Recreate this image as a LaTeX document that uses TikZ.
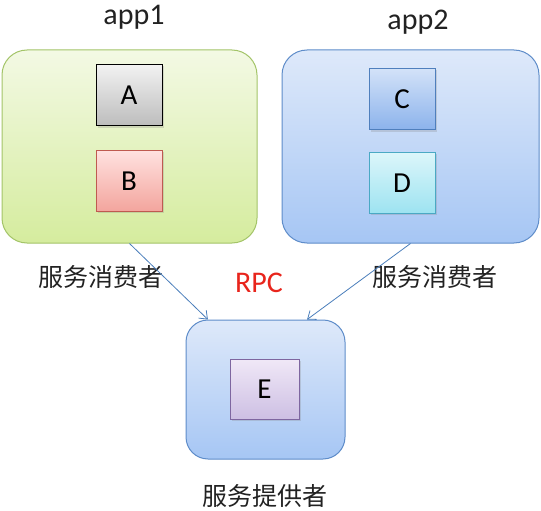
\documentclass[tikz,border=0pt]{standalone}
\usepackage{fontspec}
\setmainfont{Carlito}
\newfontfamily\cjk{Noto Sans CJK SC}
\usepackage{tikz}
\usetikzlibrary{arrows.meta, positioning, shadows, calc}
\definecolor{appGreenTop}{HTML}{F3F9E4}
\definecolor{appGreenBot}{HTML}{D5EC9E}
\definecolor{appGreenLine}{HTML}{A3C468}
\definecolor{appBlueTop}{HTML}{DEE9FA}
\definecolor{appBlueBot}{HTML}{A6C6F4}
\definecolor{appBlueLine}{HTML}{5E8CC9}
\definecolor{compGrayTop}{HTML}{F2F2F2}
\definecolor{compGrayBot}{HTML}{BDBDBD}
\definecolor{compRedTop}{HTML}{FFE2E0}
\definecolor{compRedBot}{HTML}{F3A59D}
\definecolor{compRedLine}{HTML}{BF5A50}
\definecolor{compBlueTop}{HTML}{D3E2F8}
\definecolor{compBlueBot}{HTML}{8CB3EC}
\definecolor{compBlueLine}{HTML}{4F7FBD}
\definecolor{compCyanTop}{HTML}{DCF6FA}
\definecolor{compCyanBot}{HTML}{9DE3F1}
\definecolor{compCyanLine}{HTML}{4AA9C4}
\definecolor{compPurpleTop}{HTML}{F0E8F7}
\definecolor{compPurpleBot}{HTML}{CDBFE3}
\definecolor{compPurpleLine}{HTML}{7E66A0}
\definecolor{linkBlue}{HTML}{4A7EBB}
\definecolor{textDark}{HTML}{222222}
\definecolor{rpcRed}{HTML}{E8251C}

\begin{document}
\begin{tikzpicture}[
  x=1pt, y=-1pt,
  app/.style={draw, rounded corners=25pt, minimum width=255pt, minimum height=193pt, line width=1pt},
  comp/.style={draw, minimum width=66pt, minimum height=61pt, line width=0.8pt,
    font=\fontsize{29}{33}\selectfont, text=black,
    drop shadow={opacity=0.25, shadow xshift=1.5pt, shadow yshift=-2pt}},
  lbl/.style={font=\fontsize{30}{34}\selectfont, text=textDark},
  cjklbl/.style={font=\cjk\fontsize{25}{29}\selectfont, text=textDark},
  link/.style={-{Straight Barb[length=7pt, width=11pt]}, draw=linkBlue, line width=0.8pt},
]
  \useasboundingbox (0,0) rectangle (541,511);

  % applications
  \node[app, draw=appGreenLine, top color=appGreenTop, bottom color=appGreenBot] (app1) at (129.5,146.5) {};
  \node[app, draw=appBlueLine, top color=appBlueTop, bottom color=appBlueBot, minimum width=257pt] (app2) at (410.5,146.5) {};
  \node[app, draw=appBlueLine, top color=appBlueTop, bottom color=appBlueBot,
    minimum width=159pt, minimum height=139pt, rounded corners=22pt] (prov) at (265.5,389.5) {};

  % components
  \node[comp, draw=black, top color=compGrayTop, bottom color=compGrayBot] (compA) at (129,95) {A};
  \node[comp, draw=compRedLine, top color=compRedTop, bottom color=compRedBot, below=24pt of compA] (compB) {B};
  \node[comp, draw=compBlueLine, top color=compBlueTop, bottom color=compBlueBot] (compC) at (402,99) {C};
  \node[comp, draw=compCyanLine, top color=compCyanTop, bottom color=compCyanBot, below=22pt of compC] (compD) {D};
  \node[comp, draw=compPurpleLine, top color=compPurpleTop, bottom color=compPurpleBot,
    minimum width=69pt, minimum height=60pt] (compE) at (264.5,389) {E};

  % labels
  \node[lbl] (app1Label) at (134,17) {app1};
  \node[lbl] (app2Label) at (418,22) {app2};
  \node[cjklbl] (consLeft) at (101,277) {服务消费者};
  \node[cjklbl] (consRight) at (435,277) {服务消费者};
  \node[lbl, text=rpcRed] (rpc) at (259,283) {RPC};
  \node[cjklbl] (provLabel) at (265,496) {服务提供者};

  % calls
  \coordinate (inLeft) at ($(prov.north west)!0.14!(prov.north east)$);
  \coordinate (inRight) at ($(prov.north west)!0.76!(prov.north east)$);
  \draw[link] (app1.south) -- (inLeft);
  \draw[link] (app2.south) -- (inRight);
\end{tikzpicture}
\end{document}
